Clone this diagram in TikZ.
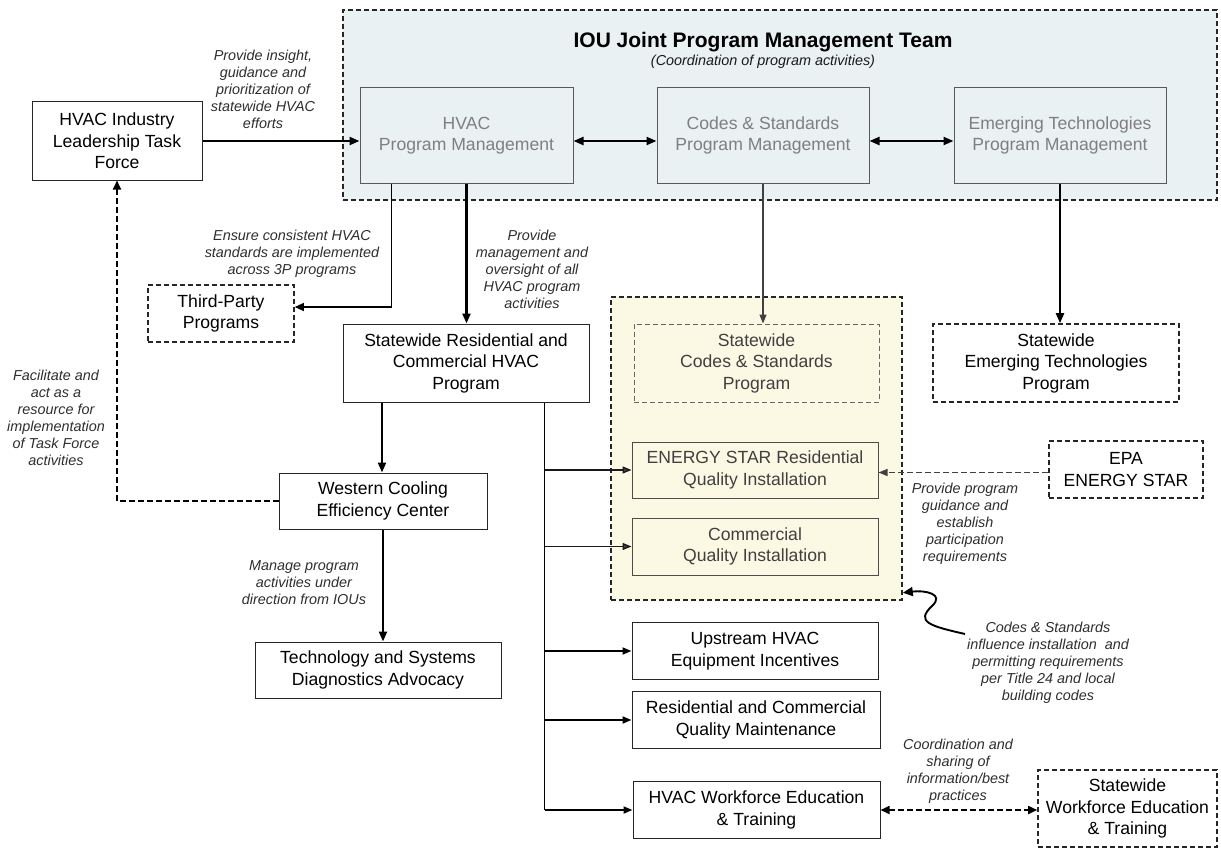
\documentclass[tikz,border=0pt]{standalone}
\usepackage{fontspec}
\setmainfont{Liberation Sans}
\usetikzlibrary{arrows.meta, calc}
\definecolor{cTeam}{HTML}{EAF1F3}
\definecolor{cCS}{HTML}{FBF8E3}
\definecolor{cPM}{HTML}{7F7F7F}
\definecolor{cInk}{HTML}{404040}

\begin{document}
\begin{tikzpicture}[
    x=1pt, y=-1pt,
    box/.style={draw=black!85, line width=1pt, fill=white, align=center,
                inner sep=2pt, font=\fontsize{17.6}{21.5}\selectfont},
    dbox/.style={box, line width=1.6pt, dash pattern=on 5pt off 3pt},
    pmbox/.style={box, draw=black!65, fill=cTeam, text=cPM},
    csbox/.style={box, draw=black!70, fill=cCS, text=cInk},
    note/.style={font=\fontsize{14.4}{17}\selectfont\itshape, text=black!82,
                 align=center, inner sep=1pt},
    link/.style={line width=1.2pt},
    flow/.style={line width=2.2pt, -{Triangle[length=10pt,width=8pt]}},
    both/.style={line width=2.2pt, {Triangle[length=10pt,width=8pt]}-{Triangle[length=10pt,width=8pt]}},
    feed/.style={line width=1.3pt, -{Triangle[length=9pt,width=7pt]}},
    grayfeed/.style={feed, draw=black!90, -{Triangle[length=9pt,width=7pt, fill=cInk]}},
    back/.style={line width=1.7pt, dash pattern=on 6pt off 3pt},
]
\useasboundingbox (0,0) rectangle (1221,848);

% ===================== Equipo IOU =====================
\node[dbox, fill=cTeam, minimum width=874, minimum height=190] (team) at (780,105) {};
\node[font=\fontsize{21}{25}\selectfont\bfseries] (teamtitle) at (763,42)
      {IOU Joint Program Management Team};
\node[note, text=black!90] (teamsub) at (763,62) {(Coordination of program activities)};

\node[pmbox, minimum width=213, minimum height=95] (hvacpm) at (466.5,135.5)
      {HVAC\\Program Management};
\node[pmbox, minimum width=212, minimum height=95] (cspm) at (763,135.5)
      {Codes \& Standards\\Program Management};
\node[pmbox, minimum width=212, minimum height=95] (etpm) at (1060,135.5)
      {Emerging Technologies\\Program Management};

\draw[both] ([yshift=-5.5pt]hvacpm.east) -- ([yshift=-5.5pt]cspm.west);
\draw[both] ([yshift=-5.5pt]cspm.east) -- ([yshift=-5.5pt]etpm.west);

% ===================== Lado izquierdo =====================
\node[box, minimum width=170, minimum height=78] (htf) at (117,141)
      {HVAC Industry\\Leadership Task\\Force};
\node[note] (lbinsight) at (263,89)
      {Provide insight,\\guidance and\\prioritization of\\statewide HVAC\\efforts};
\draw[flow] (htf.east) -- (htf.east -| hvacpm.west);

\node[dbox, minimum width=146, minimum height=57] (tpp) at (221,313.5)
      {Third-Party\\Programs};
\node[note] (lbensure) at (292,254)
      {Ensure consistent HVAC\\standards are implemented\\across 3P programs};
\draw[link, -{Triangle[length=9pt,width=8pt]}]
      ([xshift=32pt]hvacpm.south west) |- ([yshift=6.5pt]tpp.east);

\node[box, minimum width=246, minimum height=78] (swhvac) at (466,363)
      {Statewide Residential and\\Commercial HVAC\\Program};
\node[note] (lbmgmt) at (532,269)
      {Provide\\management and\\oversight of all\\HVAC program\\activities};
\draw[flow] (hvacpm.south) -- (hvacpm.south |- swhvac.north);

\node[box, minimum width=208, minimum height=56] (wcec) at (383,501)
      {Western Cooling\\Efficiency Center};
\draw[flow] ([xshift=-84pt]swhvac.south) -- ([xshift=-84pt]swhvac.south |- wcec.north);

\node[note] (lbfacil) at (56,417.5)
      {Facilitate and\\act as a\\resource for\\implementation\\of Task Force\\activities};
\draw[back, -{Triangle[length=9pt,width=8pt]}] (wcec.west) -| (htf.south);

\node[box, minimum width=246, minimum height=56] (tsda) at (378,670)
      {Technology and Systems\\Diagnostics Advocacy};
\node[note] (lbmanage) at (304,583)
      {Manage program\\activities under\\direction from IOUs};
\draw[flow] (wcec.south) -- (wcec.south |- tsda.north);

% ===================== Codes & Standards =====================
\node[dbox, fill=cCS, minimum width=291, minimum height=303] (cszone) at (756.5,448.5) {};
\node[csbox, draw=black!60, line width=1pt, dash pattern=on 5pt off 3pt,
      minimum width=245, minimum height=78] (swcs) at (756.5,363)
      {Statewide\\Codes \& Standards\\Program};
\draw[grayfeed, draw=cInk] (cspm.south) -- (cspm.south |- swcs.north);

\node[csbox, minimum width=246, minimum height=56] (esqi) at (755,470)
      {ENERGY STAR Residential\\Quality Installation};
\node[csbox, minimum width=246, minimum height=57] (cqi) at (755,546.5)
      {Commercial\\Quality Installation};

\node[dbox, minimum width=154, minimum height=57] (epa) at (1126,469.5)
      {EPA\\ENERGY STAR};
\draw[line width=1.3pt, draw=cInk, dash pattern=on 6pt off 3pt,
      -{Triangle[length=9pt,width=7pt]}]
      ([yshift=-3pt]epa.west) -- ([yshift=-3pt]epa.west -| esqi.east);
\node[note] (lbepa) at (965,524)
      {Provide program\\guidance and\\establish\\participation\\requirements};

\coordinate (wvstart) at (965,634);
\draw[line width=1.9pt, -{Triangle[length=10pt,width=9pt]}]
      (wvstart) .. controls (930,626) and (915,622) .. (932,606)
      .. controls (945,594) and (925,590) .. ([yshift=8pt]cszone.south east);
\node[note] (lbinfl) at (1048,663)
      {Codes \& Standards\\influence installation~ and\\permitting requirements\\per Title 24 and local\\building codes};

% ===================== Tecnologias emergentes =====================
\node[dbox, minimum width=246, minimum height=78] (swet) at (1056,363)
      {Statewide\\Emerging Technologies\\Program};
\draw[flow] (etpm.south) -- (etpm.south |- swet.north);

% ===================== Programas del tronco =====================
\node[box, minimum width=246, minimum height=57] (upi) at (755,651)
      {Upstream HVAC\\Equipment Incentives};
\node[box, minimum width=248, minimum height=57] (rcqm) at (756,720)
      {Residential and Commercial\\Quality Maintenance};
\node[box, minimum width=247, minimum height=57] (hwet) at (756.5,810)
      {HVAC Workforce Education\\\& Training};
\node[dbox, minimum width=179, minimum height=77] (swwet) at (1127.5,808.5)
      {Statewide\\Workforce Education\\\& Training};

\coordinate (trunk) at ([xshift=-45pt]swhvac.south east);
\draw[link] (trunk) -- (trunk |- hwet.west);
\draw[grayfeed] (trunk |- esqi.west) -- (esqi.west);
\draw[grayfeed] (trunk |- cqi.west) -- (cqi.west);
\foreach \tgt in {upi, rcqm, hwet}{
    \draw[feed, line width=1.8pt] (trunk |- \tgt.west) -- (\tgt.west);
}

\draw[back, {Triangle[length=9pt,width=8pt]}-{Triangle[length=9pt,width=8pt]}]
      (hwet.east) -- (hwet.east -| swwet.west);
\node[note] (lbcoord) at (958,771.5)
      {Coordination and\\sharing of\\information/best\\practices};

\end{tikzpicture}
\end{document}
